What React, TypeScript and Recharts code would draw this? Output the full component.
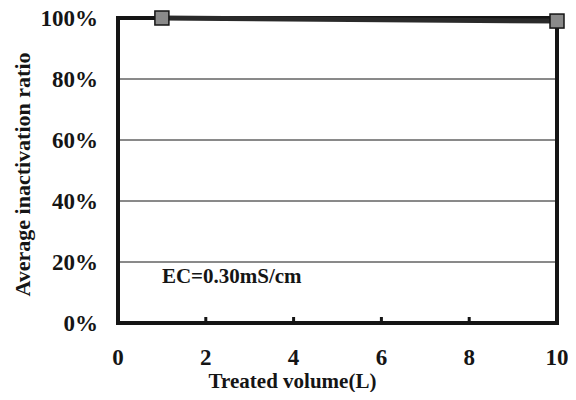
import { LineChart, Line, XAxis, YAxis, CartesianGrid, ReferenceArea, ReferenceDot, Label } from 'recharts'

const volumes = [1, 10]
const ratios = [100, 99]
const xTicks = [0, 2, 4, 6, 8, 10]
const yTicks = [0, 20, 40, 60, 80, 100]
const ecText = 'EC=0.30mS/cm'

const font = '"Liberation Serif", "Times New Roman", serif'
const ink = '#151515'

const chartData = volumes.map((v, i) => ({ volume: v, ratio: ratios[i] }))

function SquareDot(props: any) {
  const { cx, cy } = props
  if (cx == null || cy == null) return null
  return <rect x={cx - 7} y={cy - 7} width={14} height={14} fill="#8a8a8a" stroke={ink} strokeWidth={1.5} />
}

function YTitle(props: any) {
  const vb = props.viewBox
  const x = vb.x + 22
  const y = vb.y + vb.height / 2 + 4
  return (
    <text x={x} y={y} transform={`rotate(-90 ${x} ${y})`} textAnchor="middle" dominantBaseline="central"
      fontFamily={font} fontWeight="bold" fontSize={22} fill={ink}>
      Average inactivation ratio
    </text>
  )
}

export default function App() {
  return (
    <div style={{ margin: -8, background: '#fff', width: 576, height: 400 }}>
      <LineChart width={576} height={400} data={chartData} margin={{ top: 18, right: 19, left: 0, bottom: 0 }}>
        <CartesianGrid vertical={false} stroke={ink} strokeWidth={1} />
        <XAxis
          dataKey="volume"
          type="number"
          domain={[0, 10]}
          ticks={xTicks}
          height={77}
          axisLine={false}
          tickLine={{ stroke: ink, strokeWidth: 3 }}
          tickSize={-6}
          tickMargin={32}
          tick={{ fontFamily: font, fontWeight: 'bold', fontSize: 23, fill: ink }}
        >
          <Label value="Treated volume(L)" position="insideBottom" offset={12} dx={-45}
            style={{ fontFamily: font, fontWeight: 'bold', fontSize: 21, fill: ink }} />
        </XAxis>
        <YAxis
          type="number"
          domain={[0, 100]}
          ticks={yTicks}
          width={118}
          axisLine={false}
          tickLine={false}
          tickSize={0}
          tickMargin={20}
          tickFormatter={(v: number) => `${v}%`}
          tick={{ fontFamily: font, fontWeight: 'bold', fontSize: 23, fill: ink }}
          label={<YTitle />}
        />
        <ReferenceArea x1={0} x2={10} y1={0} y2={100} fill="none" stroke={ink} strokeWidth={4} ifOverflow="visible" />
        <ReferenceDot x={1} y={15.4} r={0} stroke="none" ifOverflow="visible"
          label={{ value: ecText, position: 'right', offset: 0, fontFamily: font, fontWeight: 'bold', fontSize: 21, fill: ink }} />
        <Line
          dataKey="ratio"
          stroke="#2a2a2a"
          strokeWidth={5}
          dot={<SquareDot />}
          activeDot={false}
          isAnimationActive={false}
        />
      </LineChart>
    </div>
  )
}
